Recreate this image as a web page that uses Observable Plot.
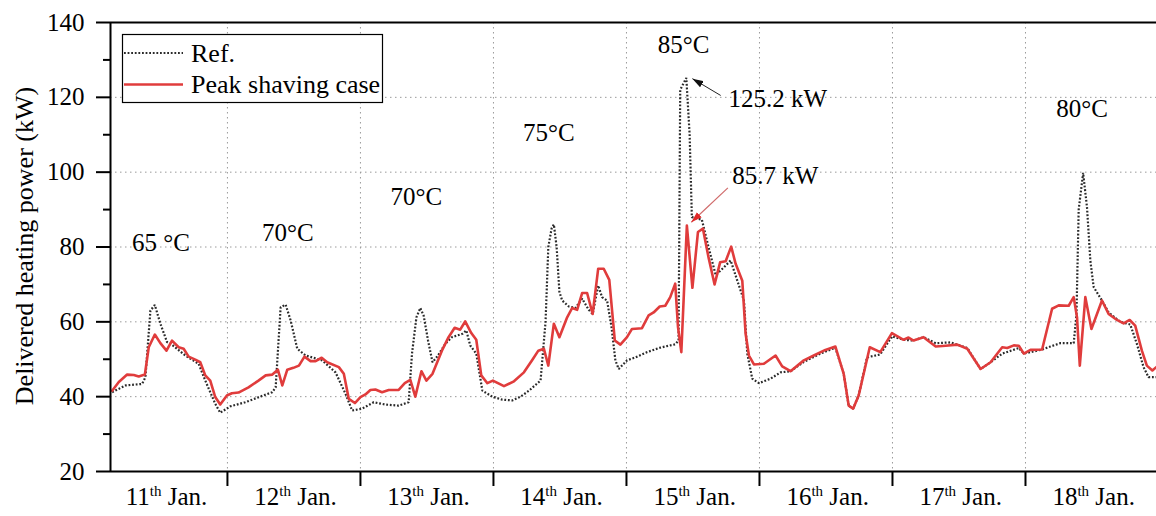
<!DOCTYPE html>
<html><head><meta charset="utf-8">
<script src="https://cdn.jsdelivr.net/npm/d3@7"></script>
<script src="https://cdn.jsdelivr.net/npm/@observablehq/plot@0.6"></script>
<style>html,body{margin:0;padding:0;background:#fff}</style>
</head><body><div id="chart"></div>
<script>
// hours since 0:00 of 11th Jan, delivered heating power (kW)
const refPoints = [[3.2,41.2],[5.6,43],[8.6,43.4],[9.2,45.2],[10.1,63],[10.9,64.5],[11.9,59.5],[13.1,54.6],[13.9,54],[16.4,51],[18.8,48.8],[20,44.3],[21.8,38.1],[22.7,35.7],[24.5,37.4],[27.2,38.5],[32.1,41.2],[32.7,42.5],[33.6,63.9],[34.5,64.6],[35.4,60.4],[36.6,52.8],[38.1,51],[41.1,49.7],[43.5,46.5],[45.3,40.8],[46.5,36.3],[48.3,36.8],[50.4,38.5],[52.5,37.9],[54.9,37.6],[56.7,38.5],[57.3,51.5],[58.1,61.2],[58.8,63.7],[59.4,61.7],[60.2,55],[61,49.2],[62,51],[63.3,54.1],[64.5,55.9],[66.4,56.8],[67.1,57.7],[67.8,53.7],[68.9,51.5],[70,41.6],[71.8,40],[73.6,39.2],[75.4,39],[76.9,40],[78.4,41.6],[80.5,44.3],[81.4,60],[81.9,80],[82.5,85],[82.9,86],[83.4,80],[83.9,68],[84.4,65.7],[85.6,64.1],[86.8,63.7],[88,66.2],[89.2,63.2],[89.9,62.1],[90.9,69.7],[91.6,66.6],[92.5,65.7],[93.3,58.6],[94,49.7],[94.6,47.4],[96.1,49.7],[97.6,50.5],[99.7,51.9],[102.1,53.1],[104.8,54],[105.4,55],[105.7,122],[106.8,125.2],[107.4,110],[107.8,88],[109.6,87.3],[110.8,80],[112.1,72.5],[113.6,74.6],[114.8,76.4],[116,71],[117.2,65.7],[117.8,51.5],[118.7,44.8],[119.9,43.6],[122,44.8],[123.8,46.5],[125.6,46.8],[128,49.3],[131,51.5],[133.7,53.1],[135.2,46.1],[136.1,37.6],[136.9,36.8],[137.9,40.3],[139.4,50.5],[141.8,51.3],[143.9,56.1],[146,55.2],[147.8,55],[149.6,55.9],[151.8,54.3],[154.5,54.5],[157.5,53],[159.9,47.4],[161.7,49.2],[163.8,51.5],[166.8,53],[167.7,51.5],[171,52.6],[172.5,53.4],[174.3,54.3],[176.7,54.3],[177.2,62],[177.6,90],[178.4,99.8],[179.1,90.6],[179.7,76.4],[180.3,69.3],[181.8,65.7],[183,62.5],[185.1,60],[186.9,59.3],[188.1,54.1],[189.3,47.9],[190.2,45.2],[191.6,45.2]];
const peakPoints = [[3.2,41.6],[4.4,43.9],[5.9,45.9],[7.1,45.8],[8,45.4],[9.1,45.9],[9.8,53.2],[10.9,56.6],[11.9,54.3],[13,52.3],[14,55],[15.2,53.2],[16.1,52.8],[17,50.7],[18.2,49.9],[19.1,49.2],[20,45.7],[20.9,44.3],[21.8,39.9],[22.7,37.9],[23.9,40.3],[24.8,40.9],[26,41.1],[27.8,42.5],[29.6,44.3],[30.9,45.7],[32.1,45.9],[33.1,47.2],[33.9,43],[34.8,47.2],[35.9,47.7],[36.9,48.3],[37.9,50.7],[39,49.5],[39.9,49.5],[41,50.4],[42,49.2],[44.1,47.9],[45,46.1],[45.9,39.4],[47,38.3],[48,39.9],[48.9,40.6],[49.8,41.8],[50.7,41.9],[51.9,41.2],[53.1,41.8],[54.9,41.8],[56,43.6],[57,44.5],[57.9,40],[59,46.8],[59.9,44.3],[61,46.1],[62.7,52.3],[63.9,55.9],[65,58.4],[66,57.9],[66.9,60.1],[68,57],[68.9,55.2],[69.8,45.7],[70.9,43.6],[71.9,44.3],[73.9,42.8],[75.7,44.1],[77.5,46.5],[79,49.8],[80.1,52.3],[81.1,52.8],[81.9,48.3],[82.9,59.5],[83.9,55.9],[85.3,61.2],[86.2,63.7],[87.1,63.2],[88,67.7],[88.9,67.7],[89.9,62.1],[90.9,74.2],[91.9,74.2],[92.9,71.2],[93.9,55],[94.9,53.9],[96.1,55.9],[97,58.1],[98.8,58.3],[100,61.7],[100.9,62.5],[102,64.1],[103,64.3],[103.9,66.6],[104.8,70.2],[105.3,58.6],[105.9,51.9],[106.9,85.7],[107.9,69.1],[108.9,84],[109.8,84.9],[110.8,77.3],[111.9,70],[112.9,75.9],[113.9,76.2],[114.9,80.1],[115.7,75.5],[116.9,71],[117.5,56.8],[118.1,51],[119,48.6],[120.8,48.8],[122.9,51],[124.1,48.1],[125.6,46.8],[128,49.7],[129.8,51],[131.9,52.5],[133.7,53.4],[135.2,46.1],[136.1,37.6],[136.9,36.8],[137.9,40.3],[139.9,53.2],[141.8,51.9],[143.9,57],[146,55.2],[146.9,55.8],[147.8,55],[149.6,55.9],[151.8,53.4],[153.6,53.6],[155.7,53.9],[157.5,52.8],[159.9,47.4],[161.7,49.2],[163.8,53.2],[164.7,53],[165.9,53.7],[166.8,53.6],[167.7,51.5],[168.9,52.5],[171,52.6],[172.8,63.5],[174,64.4],[175.8,64.3],[176.7,66.6],[177.3,61.2],[177.8,48.3],[178.8,66.6],[179.9,58.1],[181.8,65.7],[183,62.1],[184.5,60.5],[185.7,59.6],[186.8,60.5],[187.8,59],[189,52.3],[189.9,48.3],[190.9,47],[191.6,47.9]];

const dayBoundaries = [24, 48, 72, 96, 120, 144, 168];
const dayLabels = ["11th Jan.", "12th Jan.", "13th Jan.", "14th Jan.", "15th Jan.", "16th Jan.", "17th Jan.", "18th Jan."];
const dayLabelHours = [13, 36.3, 60.3, 84.3, 108.3, 132.3, 156.3, 180.3];
const yMajorTicks = [20, 40, 60, 80, 100, 120, 140];
const yMinorTicks = [30, 50, 70, 90, 110, 130];
const yGridTicks = [40, 60, 80, 100, 120];
const seriesNames = ["Ref.", "Peak shaving case"];
const yTitle = "Delivered heating power (kW)";

const tempNotes = [
  {h: 12.0, v: 81.2, text: "65 °C"},
  {h: 34.9, v: 83.7, text: "70°C"},
  {h: 58.1, v: 93.3, text: "70°C"},
  {h: 82.0, v: 110.5, text: "75°C"},
  {h: 106.3, v: 133.9, text: "85°C"},
  {h: 178.2, v: 116.9, text: "80°C"}
];
const peakNotes = [
  {h: 114.4, v: 119.6, text: "125.2 kW"},
  {h: 115.1, v: 99.1, text: "85.7 kW"}
];
const blackArrow = [{h1: 113.0, v1: 120.5, h2: 107.9, v2: 125.0}];
const redArrow = [{h1: 114.3, v1: 95.8, h2: 107.7, v2: 86.6}];

const xDomain = [2.9, 191.64];
const FONT = '"Liberation Serif", "Times New Roman", Times, serif';
const RED = "#e03c3c";
const REF_DASH = "1.8,1.8";

const chart = Plot.plot({
  width: 1156, height: 516,
  marginLeft: 110, marginRight: 0, marginTop: 22, marginBottom: 45,
  x: {domain: xDomain},
  y: {domain: [20, 140]},
  style: {fontFamily: FONT, fontSize: "25px", background: "#fff", color: "#000", overflow: "visible"},
  marks: [
    Plot.gridY({ticks: yGridTicks, stroke: "#9a9a9a", strokeOpacity: 1, strokeWidth: 1, strokeDasharray: "1.5,3.5"}),
    Plot.gridX({ticks: dayBoundaries, stroke: "#9a9a9a", strokeOpacity: 1, strokeWidth: 1, strokeDasharray: "1.5,3.5"}),
    Plot.line(refPoints, {x: d => d[0], y: d => d[1], stroke: "#2a2a2a", strokeWidth: 2.2, strokeDasharray: REF_DASH, strokeLinecap: "butt", strokeLinejoin: "miter"}),
    Plot.line(peakPoints, {x: d => d[0], y: d => d[1], stroke: RED, strokeWidth: 2.6}),
    Plot.ruleX([xDomain[0]], {stroke: "#000", strokeWidth: 2}),
    Plot.ruleY([20, 140], {stroke: "#000", strokeWidth: 2}),
    Plot.axisY({ticks: yMajorTicks, tickSize: 14, tickPadding: 12, strokeWidth: 2, fontSize: 25, label: null}),
    Plot.axisY({ticks: yMinorTicks, tickSize: 7, tickFormat: () => "", strokeWidth: 2, label: null}),
    Plot.axisX({ticks: dayBoundaries, tickSize: 15, tickFormat: () => "", strokeWidth: 2, label: null}),
    Plot.text(dayLabels, {x: (d, i) => dayLabelHours[i], text: d => d, frameAnchor: "bottom", dy: 33, fontSize: 25}),
    Plot.text(tempNotes, {x: "h", y: "v", text: "text", fontSize: 25}),
    Plot.text(peakNotes, {x: "h", y: "v", text: "text", textAnchor: "start", fontSize: 25}),
    Plot.link(blackArrow, {x1: "h1", y1: "v1", x2: "h2", y2: "v2", stroke: "#222", strokeWidth: 1}),
    Plot.link(redArrow, {x1: "h1", y1: "v1", x2: "h2", y2: "v2", stroke: "#d06a6a", strokeWidth: 1.2})
  ]
});
document.getElementById("chart").appendChild(chart);

const svg = d3.select(chart);
// make sure every Plot text uses the serif family
svg.selectAll("g[aria-label] text, g[aria-label]").filter(function() { return this.tagName === "g" && this.getAttribute("font-family") === null ? false : true; });
svg.selectAll("text").attr("font-family", FONT);

// arrowheads
const defs = svg.append("defs");
function addMarker(id, color) {
  defs.append("marker").attr("id", id).attr("viewBox", "0 -4 11 8")
    .attr("refX", 11).attr("refY", 0).attr("markerWidth", 11).attr("markerHeight", 8)
    .attr("markerUnits", "userSpaceOnUse").attr("orient", "auto")
    .append("path").attr("d", "M0,-3.5L11,0L0,3.5Z").attr("fill", color);
}
addMarker("ah-black", "#111");
addMarker("ah-red", "#e02828");
svg.selectAll("g[aria-label='link']").each(function(_, i) {
  d3.select(this).selectAll("path").attr("marker-end", i === 0 ? "url(#ah-black)" : "url(#ah-red)");
});

// superscript ordinals in day labels
svg.selectAll("text").each(function() {
  const t = this.textContent;
  const m = /^(\d+)(th) (Jan\.)$/.exec(t);
  if (!m || this.querySelector("tspan")) return;
  const el = d3.select(this);
  el.text(null);
  el.append("tspan").text(m[1]);
  el.append("tspan").attr("font-size", 15).attr("dy", -9).text(m[2]);
  el.append("tspan").attr("dy", 9).text(" " + m[3]);
});

// y-axis title
svg.append("text").attr("transform", "translate(24,246) rotate(-90)")
  .attr("text-anchor", "middle").attr("dominant-baseline", "central")
  .attr("font-family", FONT).attr("font-size", 26).attr("fill", "#000").text(yTitle);

// legend
const lg = svg.append("g").attr("font-family", FONT).attr("font-size", 26).attr("text-anchor", "start");
lg.append("rect").attr("x", 122.5).attr("y", 34.5).attr("width", 260).attr("height", 68)
  .attr("fill", "#fff").attr("stroke", "#000").attr("stroke-width", 1.2);
lg.append("line").attr("x1", 124).attr("x2", 183).attr("y1", 53).attr("y2", 53)
  .attr("stroke", "#2a2a2a").attr("stroke-width", 2).attr("stroke-dasharray", REF_DASH);
lg.append("line").attr("x1", 124).attr("x2", 183).attr("y1", 84.5).attr("y2", 84.5)
  .attr("stroke", RED).attr("stroke-width", 2.6);
lg.append("text").attr("x", 191).attr("y", 62).attr("text-anchor", "start").text(seriesNames[0]);
lg.append("text").attr("x", 191).attr("y", 92.5).attr("text-anchor", "start").text(seriesNames[1]);
</script>
</body></html>
